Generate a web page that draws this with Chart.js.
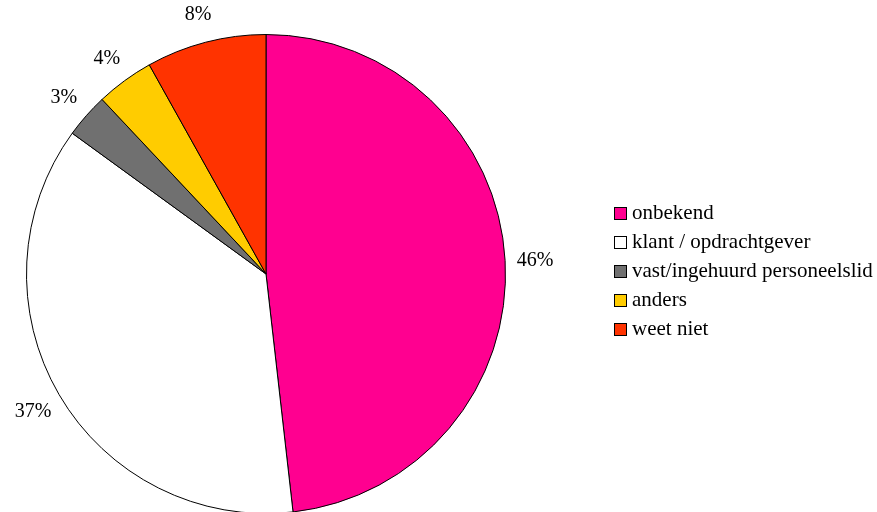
<!DOCTYPE html>
<html>
<head>
<meta charset="utf-8">
<script src="https://cdn.jsdelivr.net/npm/chart.js@4/dist/chart.umd.min.js"></script>
<style>
  html, body { margin: 0; padding: 0; background: #fff; overflow: hidden; width: 877px; height: 512px; }
  #wrap { position: relative; width: 877px; height: 560px; }
  #legend { position: absolute; left: 614px; top: 198px; font-family: "Liberation Serif", "Times New Roman", serif; font-size: 21px; color: #000; }
  #legend div { height: 29px; line-height: 28px; white-space: nowrap; }
  #legend span.box { display: inline-block; width: 11px; height: 11px; border: 1px solid #000; margin-right: 5px; vertical-align: -1px; }
</style>
</head>
<body>
<div id="wrap">
  <canvas id="pieChart" width="877" height="560"></canvas>
  <div id="legend"></div>
</div>
<script>
// slice sizes (percent of the circle)
const categories = ['onbekend', 'klant / opdrachtgever', 'vast/ingehuurd personeelslid', 'anders', 'weet niet'];
const sliceValues = [48.2, 36.8, 3.0, 3.9, 8.1];
// labels as printed in the reference
const sliceLabels = ['46%', '37%', '3%', '4%', '8%'];
const sliceColors = ['#FF0090', '#FFFFFF', '#707070', '#FFCC00', '#FF3300'];

// Draw the percentage labels just outside each slice
const outsideLabels = {
    id: 'outsideLabels',
    afterDatasetsDraw(chart) {
        const ctx = chart.ctx;
        const meta = chart.getDatasetMeta(0);
        ctx.save();
        ctx.font = '20px "Liberation Serif", "Times New Roman", serif';
        ctx.fillStyle = '#000';
        ctx.textAlign = 'center';
        ctx.textBaseline = 'middle';
        meta.data.forEach((arc, i) => {
            const mid = (arc.startAngle + arc.endAngle) / 2;
            const r = arc.outerRadius + 30;
            ctx.fillText(sliceLabels[i], arc.x + Math.cos(mid) * r, arc.y + Math.sin(mid) * r + 2);
        });
        ctx.restore();
    }
};

const ctx = document.getElementById('pieChart').getContext('2d');
const pieChart = new Chart(ctx, {
    type: 'pie',
    data: {
        labels: categories,
        datasets: [{
            data: sliceValues,
            backgroundColor: sliceColors,
            borderColor: '#000',
            borderWidth: 1,
        }]
    },
    options: {
        responsive: false,
        animation: false,
        layout: {
            padding: { left: 26, right: 371, top: 34, bottom: 46 }
        },
        plugins: {
            legend: { display: false },
            tooltip: { enabled: false }
        }
    },
    plugins: [outsideLabels]
});

// Build the legend next to the pie
const legend = document.getElementById('legend');
categories.forEach((name, i) => {
    legend.innerHTML += `<div><span class="box" style="background:${sliceColors[i]}"></span>${name}</div>`;
});
</script>
</body>
</html>
